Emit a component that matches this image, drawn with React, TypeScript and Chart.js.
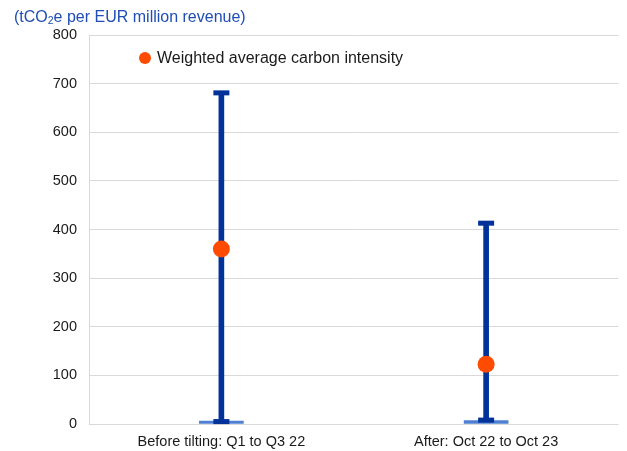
import React, { useEffect, useRef } from "react";
import { Chart, registerables } from "chart.js";

Chart.register(...registerables);

const categories = ["Before tilting: Q1 to Q3 22", "After: Oct 22 to Oct 23"];
const rangeLow = [5, 8];
const rangeHigh = [681, 413];
const baseHigh = [6, 7];
const weightedAverage = [360, 123];
const yTicks = [0, 100, 200, 300, 400, 500, 600, 700, 800];
const legendLabel = "Weighted average carbon intensity";
const titleParts = ["(tCO", "2", "e per EUR million revenue)"];

const FONT = "Arial, 'Liberation Sans', sans-serif";
const DARK = "#003299";
const LIGHT = "#4E7FD2";
const ORANGE = "#FF4B00";
const TITLE_BLUE = "#1F4DB5";

const overlayPlugin = {
  id: "overlay",
  afterDatasetsDraw(chart: any) {
    const ctx = chart.ctx;
    const x = chart.scales.x;
    const y = chart.scales.y;
    ctx.save();
    ctx.fillStyle = DARK;
    for (let i = 0; i < categories.length; i++) {
      const cx = x.getPixelForValue(i);
      for (const v of [rangeLow[i], rangeHigh[i]]) {
        const py = y.getPixelForValue(v);
        ctx.fillRect(cx - 8, py - 2.5, 16, 5);
      }
    }
    ctx.restore();
  },
  afterDraw(chart: any) {
    const ctx = chart.ctx;
    const area = chart.chartArea;
    ctx.save();
    ctx.fillStyle = TITLE_BLUE;
    ctx.textBaseline = "middle";
    ctx.textAlign = "left";
    let tx = 14;
    const ty = 17.5;
    ctx.font = `16px ${FONT}`;
    ctx.fillText(titleParts[0], tx, ty);
    tx += ctx.measureText(titleParts[0]).width;
    ctx.font = `10.5px ${FONT}`;
    ctx.fillText(titleParts[1], tx, ty + 4);
    tx += ctx.measureText(titleParts[1]).width;
    ctx.font = `16px ${FONT}`;
    ctx.fillText(titleParts[2], tx, ty);
    const lx = area.left + 56;
    const ly = area.top + 23;
    ctx.fillStyle = ORANGE;
    ctx.beginPath();
    ctx.arc(lx, ly, 6, 0, Math.PI * 2);
    ctx.fill();
    ctx.fillStyle = "#1a1a1a";
    ctx.font = `16px ${FONT}`;
    ctx.fillText(legendLabel, lx + 12, ly + 1);
    ctx.restore();
  },
};

export default function App() {
  const ref = useRef<HTMLCanvasElement>(null);
  useEffect(() => {
    if (!ref.current) return;
    const chart = new Chart(ref.current, {
      type: "bar",
      data: {
        labels: categories,
        datasets: [
          {
            type: "line",
            label: legendLabel,
            data: weightedAverage,
            showLine: false,
            pointRadius: 8.5,
            pointHoverRadius: 8.5,
            pointBackgroundColor: ORANGE,
            pointBorderWidth: 0,
            borderColor: ORANGE,
            order: 0,
          } as any,
          {
            type: "bar",
            label: "range",
            data: categories.map((_, i) => [rangeLow[i], rangeHigh[i]]),
            backgroundColor: DARK,
            barThickness: 5,
            grouped: false,
            order: 1,
          } as any,
          {
            type: "bar",
            label: "base",
            data: categories.map((_, i) => [0, baseHigh[i]]),
            backgroundColor: LIGHT,
            barThickness: 44,
            grouped: false,
            order: 2,
          } as any,
        ],
      },
      options: {
        animation: false,
        responsive: false,
        maintainAspectRatio: false,
        layout: { padding: { left: 0, right: 6, top: 35, bottom: 0 } },
        plugins: {
          legend: { display: false },
          tooltip: { enabled: false },
          title: { display: false },
        },
        scales: {
          x: {
            grid: { display: false },
            border: { display: false },
            ticks: {
              color: "#1a1a1a",
              font: { family: FONT, size: 14.5 },
              padding: 1,
              maxRotation: 0,
            },
            afterFit(scale: any) {
              scale.height = 27;
            },
          },
          y: {
            min: 0,
            max: 800,
            afterBuildTicks(scale: any) {
              scale.ticks = yTicks.map((v) => ({ value: v }));
            },
            grid: { color: "#d9d9d9", lineWidth: 1, drawTicks: false },
            border: { color: "#d9d9d9" },
            ticks: {
              color: "#1a1a1a",
              font: { family: FONT, size: 14.5 },
              padding: 12,
            },
            afterFit(scale: any) {
              scale.width = 89;
            },
          },
        },
      },
      plugins: [overlayPlugin],
    });
    return () => chart.destroy();
  }, []);
  return (
    <div style={{ position: "absolute", left: 0, top: 0, width: 627, height: 451 }}>
      <canvas ref={ref} width={627} height={451} style={{ width: 627, height: 451 }} />
    </div>
  );
}
